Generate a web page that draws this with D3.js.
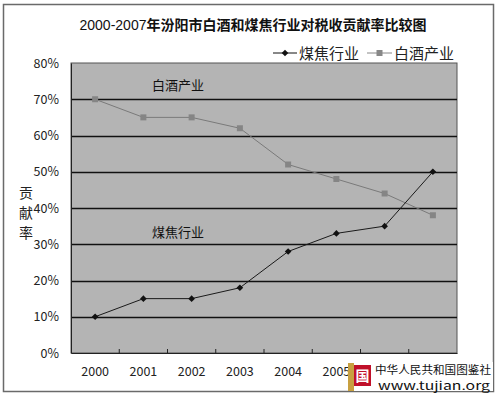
<!DOCTYPE html>
<html><head><meta charset="utf-8">
<script src="https://cdn.jsdelivr.net/npm/d3@7"></script>
<style>body{margin:0;background:#fff}svg{display:block}text{font-family:"Noto Sans CJK SC","Liberation Sans",sans-serif}</style>
</head><body>
<svg id="c" width="500" height="399"></svg>
<script>
const years = ["2000","2001","2002","2003","2004","2005","2006","2007"];
const coal = [10,15,15,18,28,33,35,50];
const liquor = [70,65,65,62,52,48,44,38];
const yTicks = [0,10,20,30,40,50,60,70,80];
const seriesNames = ["煤焦行业","白酒产业"];

const svg = d3.select("#c");
const m = {l:71, r:457, t:63, b:353};
svg.append("rect").attr("x",3.5).attr("y",4.5).attr("width",490).attr("height",387)
  .attr("fill","#fff").attr("stroke","#6a6a6a").attr("stroke-width",1.5);

const x = d3.scaleBand().domain(years).range([m.l,m.r]);
const y = d3.scaleLinear().domain([0,80]).range([m.b,m.t]);

svg.append("rect").attr("x",m.l).attr("y",m.t).attr("width",m.r-m.l).attr("height",m.b-m.t)
  .attr("fill","#b4b4b4").attr("stroke","#555").attr("stroke-width",1);

// gridlines
svg.append("g").selectAll("line").data(yTicks.slice(1,-1)).join("line")
  .attr("x1",m.l).attr("x2",m.r).attr("y1",d=>Math.round(y(d))+0.5).attr("y2",d=>Math.round(y(d))+0.5)
  .attr("stroke","#111").attr("stroke-width",1.3);

// y axis
const ya = svg.append("g").attr("transform",`translate(${m.l},0)`)
  .call(d3.axisLeft(y).tickValues(yTicks).tickFormat(d=>d+"%").tickSize(0).tickPadding(12));
ya.select(".domain").attr("stroke","#222");
ya.selectAll("text").attr("font-family","Liberation Sans, sans-serif").attr("font-size",12.5).attr("fill","#222");

// x axis
const wmX = 350; // watermark left edge: labels fully under it are hidden in the reference
const xa = svg.append("g").attr("transform",`translate(0,${m.b})`)
  .call(d3.axisBottom(x).tickSize(0).tickPadding(14));
xa.select(".domain").attr("stroke","#222");
xa.selectAll("text").attr("font-family","Liberation Sans, sans-serif").attr("font-size",12.5).attr("fill","#222");
xa.selectAll(".tick").filter(d=>x(d)>wmX).remove();
// inward tick marks at band boundaries
svg.append("g").selectAll("line").data(years.slice(1)).join("line")
  .attr("x1",d=>x(d)).attr("x2",d=>x(d)).attr("y1",m.b).attr("y2",m.b-4).attr("stroke","#222");

const cx = d => x(d)+x.bandwidth()/2;
const line = d3.line().x((d,i)=>cx(years[i])).y(d=>y(d));

svg.append("path").datum(liquor).attr("d",line).attr("fill","none").attr("stroke","#7a7a7a").attr("stroke-width",1);
svg.append("g").selectAll("rect").data(liquor).join("rect")
  .attr("x",(d,i)=>cx(years[i])-3).attr("y",d=>y(d)-3).attr("width",6).attr("height",6).attr("fill","#858585");

svg.append("path").datum(coal).attr("d",line).attr("fill","none").attr("stroke","#1a1a1a").attr("stroke-width",1);
const diamond = d3.symbol().type(d3.symbolDiamond2).size(28);
svg.append("g").selectAll("path").data(coal).join("path")
  .attr("transform",(d,i)=>`translate(${cx(years[i])},${y(d)})`).attr("d",diamond).attr("fill","#111");

// title
const t = svg.append("text").attr("x",253).attr("y",30).attr("text-anchor","middle").attr("font-size",14).attr("fill","#111");
t.append("tspan").attr("font-family","Liberation Sans, sans-serif").text("2000-2007");
t.append("tspan").attr("font-weight","bold").text("年汾阳市白酒和煤焦行业对税收贡献率比较图");

// legend
const lg = svg.append("g");
lg.append("line").attr("x1",273).attr("x2",297).attr("y1",53).attr("y2",53).attr("stroke","#111");
lg.append("path").attr("transform","translate(285,53)").attr("d",diamond).attr("fill","#111");
lg.append("text").attr("x",299).attr("y",58.5).attr("font-size",15).attr("fill","#222").text(seriesNames[0]);
lg.append("line").attr("x1",367).attr("x2",392).attr("y1",53).attr("y2",53).attr("stroke","#888");
lg.append("rect").attr("x",376.5).attr("y",50).attr("width",6).attr("height",6).attr("fill","#888");
lg.append("text").attr("x",394).attr("y",58.5).attr("font-size",15).attr("fill","#222").text(seriesNames[1]);

// annotations
svg.append("text").attr("x",152).attr("y",90).attr("font-size",13).attr("fill","#111").text(seriesNames[1]);
svg.append("text").attr("x",152).attr("y",237).attr("font-size",13).attr("fill","#111").text(seriesNames[0]);

// y axis title
["贡","献","率"].forEach((c,i)=>svg.append("text").attr("x",26).attr("y",198+i*20).attr("text-anchor","middle")
  .attr("font-size",14).attr("fill","#222").text(c));

// watermark
const w = svg.append("g");
w.append("rect").attr("x",wmX).attr("y",362).attr("width",143).attr("height",29).attr("fill","#fff");
w.append("rect").attr("x",348).attr("y",363).attr("width",6).attr("height",28).attr("fill","#c8a040");
w.append("rect").attr("x",354).attr("y",365).attr("width",17).attr("height",21).attr("fill","#c0102a");
w.append("text").attr("x",362.5).attr("y",381).attr("text-anchor","middle").attr("font-size",14).attr("font-weight","bold").attr("fill","#fff").text("国");
w.append("text").attr("x",375).attr("y",373.5).attr("font-size",11).attr("fill","#111").attr("textLength",116).attr("lengthAdjust","spacingAndGlyphs").text("中华人民共和国图鉴社");
w.append("text").attr("x",378).attr("y",389.5).attr("font-size",11.5).attr("font-family","Liberation Mono, monospace").attr("fill","#111").attr("textLength",112).attr("lengthAdjust","spacingAndGlyphs").text("www.tujian.org");
</script>
</body></html>
